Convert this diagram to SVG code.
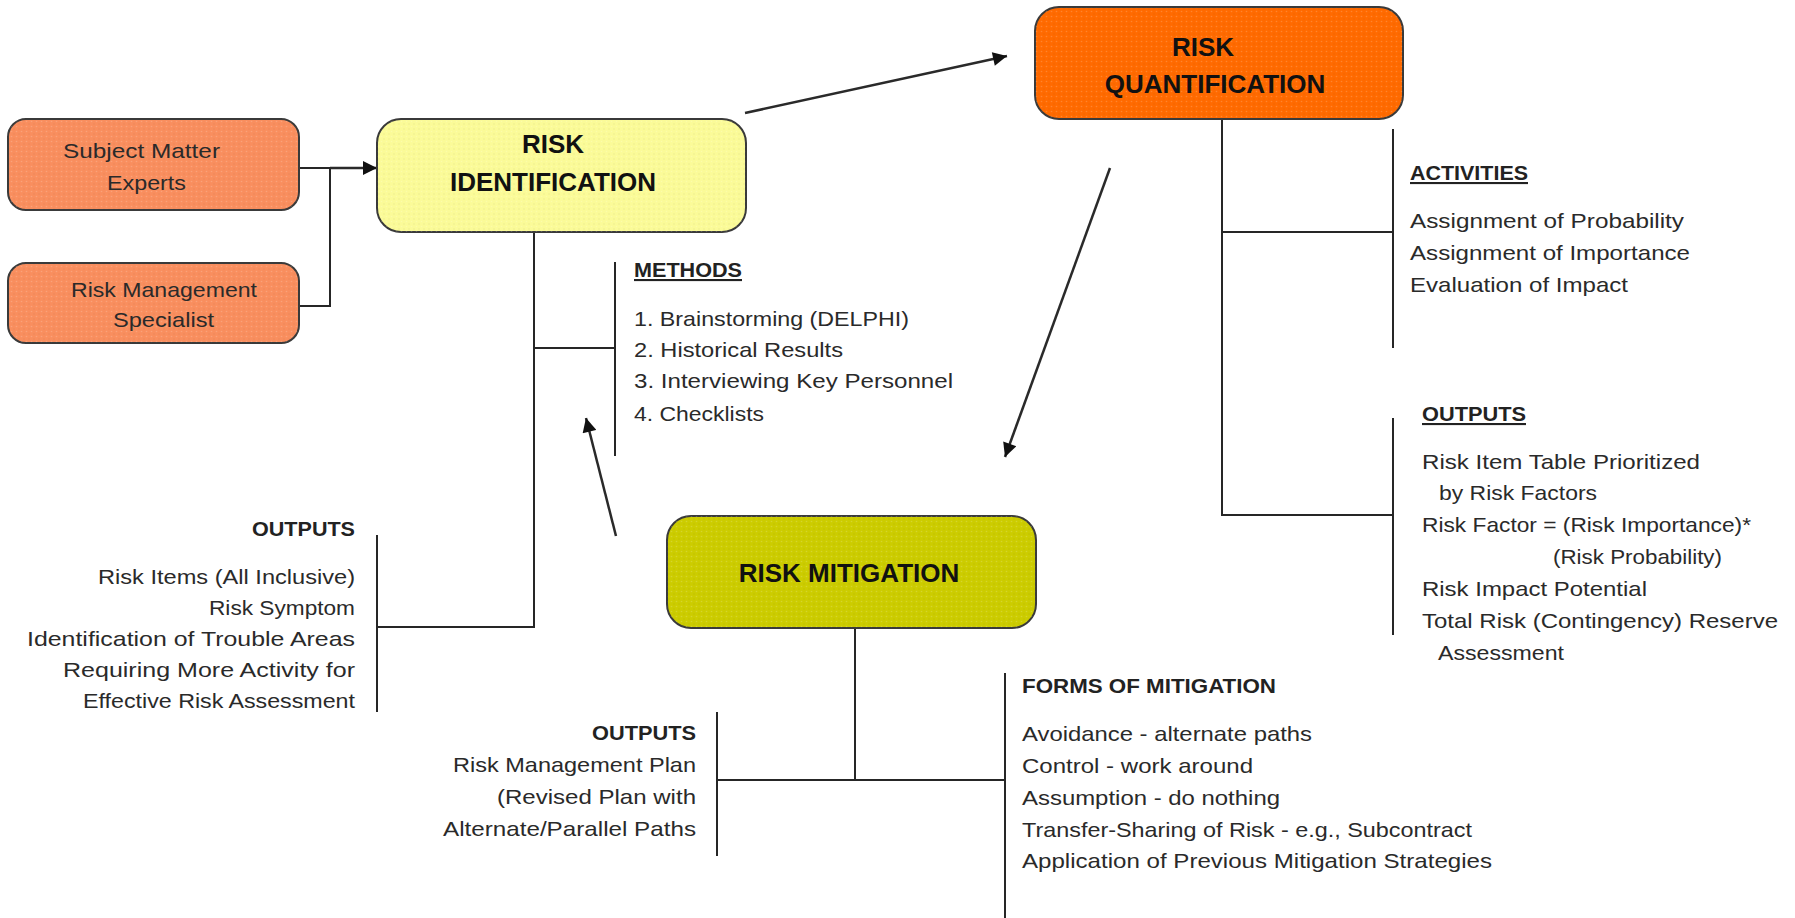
<svg xmlns="http://www.w3.org/2000/svg" width="1795" height="918" viewBox="0 0 1795 918">
  <defs>
    <style>
      .box { stroke: #3a3a3a; stroke-width: 2; }
      .sme { fill: #F98E5E; }
      .ident { fill: #FBFB98; }
      .quant { fill: #FF6A00; }
      .mitig { fill: #CCCC00; }
      .dots { fill: url(#dotTex); stroke: none; }
      .title { font-family: "Liberation Sans", Arial, sans-serif; font-weight: bold; font-size: 26px; fill: #111; text-anchor: middle; }
      .label { font-family: "Liberation Sans", Arial, sans-serif; font-size: 21px; fill: #2a2a2a; }
      .head { font-family: "Liberation Sans", Arial, sans-serif; font-size: 21px; font-weight: bold; fill: #222; }
      .txt { font-family: "Liberation Sans", Arial, sans-serif; font-size: 21px; fill: #2a2a2a; }
      .end { text-anchor: end; }
      .line { stroke: #262626; stroke-width: 2; fill: none; }
      .flow { stroke: #2a2a2a; stroke-width: 2.5; fill: none; marker-end: url(#arrow); }
    </style>
    <pattern id="dotTex" width="5" height="5" patternUnits="userSpaceOnUse">
      <circle cx="1.5" cy="1.5" r="0.8" fill="#ffffff" fill-opacity="0.18"/>
      <circle cx="4" cy="4" r="0.7" fill="#000000" fill-opacity="0.06"/>
    </pattern>
    <marker id="arrow" viewBox="0 0 10 10" refX="10" refY="5" markerWidth="16" markerHeight="14" markerUnits="userSpaceOnUse" orient="auto">
      <path d="M0,0 L10,5 L0,10 Z" fill="#111"/>
    </marker>
  </defs>

  <rect width="1795" height="918" fill="#ffffff"/>

  <!-- connectors -->
  <g id="connectors">
    <!-- inputs into identification -->
    <path class="line" d="M299,168 H330 M299,306 H330 V168"/>
    <line class="flow" x1="330" y1="168" x2="377" y2="168"/>
    <!-- cycle between the three phases -->
    <line class="flow" x1="745" y1="113" x2="1007" y2="56"/>
    <line class="flow" x1="1110" y1="168" x2="1005" y2="457"/>
    <line class="flow" x1="616" y1="536" x2="586" y2="418"/>

    <!-- identification: methods and outputs -->
    <path class="line" d="M534,232 V627 H377"/>
    <path class="line" d="M534,348 H615"/>
    <line class="line" x1="615" y1="262" x2="615" y2="456"/>
    <line class="line" x1="377" y1="535" x2="377" y2="712"/>

    <!-- quantification: activities and outputs -->
    <path class="line" d="M1222,119 V515 H1393"/>
    <path class="line" d="M1222,232 H1393"/>
    <line class="line" x1="1393" y1="129" x2="1393" y2="348"/>
    <line class="line" x1="1393" y1="418" x2="1393" y2="635"/>

    <!-- mitigation: outputs and forms -->
    <path class="line" d="M855,628 V780"/>
    <path class="line" d="M717,780 H1005"/>
    <line class="line" x1="717" y1="712" x2="717" y2="856"/>
    <line class="line" x1="1005" y1="673" x2="1005" y2="918"/>
  </g>

  <!-- input nodes -->
  <g id="subject-matter-experts">
    <rect class="box sme" x="8" y="119" width="291" height="91" rx="18"/>
    <rect class="dots" x="8" y="119" width="291" height="91" rx="18"/>
    <text class="label" x="63" y="158" textLength="157" lengthAdjust="spacingAndGlyphs">Subject Matter</text>
    <text class="label" x="107" y="190" textLength="79" lengthAdjust="spacingAndGlyphs">Experts</text>
  </g>
  <g id="risk-management-specialist">
    <rect class="box sme" x="8" y="263" width="291" height="80" rx="18"/>
    <rect class="dots" x="8" y="263" width="291" height="80" rx="18"/>
    <text class="label" x="71" y="297" textLength="186" lengthAdjust="spacingAndGlyphs">Risk Management</text>
    <text class="label" x="113" y="327" textLength="101" lengthAdjust="spacingAndGlyphs">Specialist</text>
  </g>

  <!-- phase nodes -->
  <g id="risk-identification">
    <rect class="box ident" x="377" y="119" width="369" height="113" rx="24"/>
    <rect class="dots" x="377" y="119" width="369" height="113" rx="24"/>
    <text class="title" x="553" y="153">RISK</text>
    <text class="title" x="553" y="191">IDENTIFICATION</text>
  </g>
  <g id="risk-quantification">
    <rect class="box quant" x="1035" y="7" width="368" height="112" rx="24"/>
    <rect class="dots" x="1035" y="7" width="368" height="112" rx="24"/>
    <text class="title" x="1203" y="56">RISK</text>
    <text class="title" x="1215" y="93">QUANTIFICATION</text>
  </g>
  <g id="risk-mitigation">
    <rect class="box mitig" x="667" y="516" width="369" height="112" rx="24"/>
    <rect class="dots" x="667" y="516" width="369" height="112" rx="24"/>
    <text class="title" x="849" y="582">RISK MITIGATION</text>
  </g>

  <!-- identification methods -->
  <g id="methods">
    <text class="head" x="634" y="277" textLength="108" lengthAdjust="spacingAndGlyphs" text-decoration="underline">METHODS</text>
    <text class="txt" x="634" y="326" textLength="275" lengthAdjust="spacingAndGlyphs">1. Brainstorming  (DELPHI)</text>
    <text class="txt" x="634" y="357" textLength="209" lengthAdjust="spacingAndGlyphs">2. Historical Results</text>
    <text class="txt" x="634" y="388" textLength="319" lengthAdjust="spacingAndGlyphs">3. Interviewing Key Personnel</text>
    <text class="txt" x="634" y="421" textLength="130" lengthAdjust="spacingAndGlyphs">4. Checklists</text>
  </g>

  <!-- identification outputs -->
  <g id="identification-outputs">
    <text class="head end" x="355" y="536" textLength="103" lengthAdjust="spacingAndGlyphs">OUTPUTS</text>
    <text class="txt end" x="355" y="584" textLength="257" lengthAdjust="spacingAndGlyphs">Risk Items  (All Inclusive)</text>
    <text class="txt end" x="355" y="615" textLength="146" lengthAdjust="spacingAndGlyphs">Risk Symptom</text>
    <text class="txt end" x="355" y="646" textLength="328" lengthAdjust="spacingAndGlyphs">Identification  of Trouble Areas</text>
    <text class="txt end" x="355" y="677" textLength="292" lengthAdjust="spacingAndGlyphs">Requiring More Activity for</text>
    <text class="txt end" x="355" y="708" textLength="272" lengthAdjust="spacingAndGlyphs">Effective Risk Assessment</text>
  </g>

  <!-- quantification activities -->
  <g id="activities">
    <text class="head" x="1410" y="180" textLength="118" lengthAdjust="spacingAndGlyphs" text-decoration="underline">ACTIVITIES</text>
    <text class="txt" x="1410" y="228" textLength="274" lengthAdjust="spacingAndGlyphs">Assignment of Probability</text>
    <text class="txt" x="1410" y="260" textLength="280" lengthAdjust="spacingAndGlyphs">Assignment of Importance</text>
    <text class="txt" x="1410" y="292" textLength="218" lengthAdjust="spacingAndGlyphs">Evaluation  of Impact</text>
  </g>

  <!-- quantification outputs -->
  <g id="quantification-outputs">
    <text class="head" x="1422" y="421" textLength="104" lengthAdjust="spacingAndGlyphs" text-decoration="underline">OUTPUTS</text>
    <text class="txt" x="1422" y="469" textLength="278" lengthAdjust="spacingAndGlyphs">Risk Item Table  Prioritized</text>
    <text class="txt" x="1439" y="500" textLength="158" lengthAdjust="spacingAndGlyphs">by Risk Factors</text>
    <text class="txt" x="1422" y="532" textLength="329" lengthAdjust="spacingAndGlyphs">Risk Factor  = (Risk Importance)*</text>
    <text class="txt" x="1553" y="564" textLength="169" lengthAdjust="spacingAndGlyphs">(Risk Probability)</text>
    <text class="txt" x="1422" y="596" textLength="225" lengthAdjust="spacingAndGlyphs">Risk Impact  Potential</text>
    <text class="txt" x="1422" y="628" textLength="356" lengthAdjust="spacingAndGlyphs">Total  Risk (Contingency) Reserve</text>
    <text class="txt" x="1438" y="660" textLength="126" lengthAdjust="spacingAndGlyphs">Assessment</text>
  </g>

  <!-- mitigation outputs -->
  <g id="mitigation-outputs">
    <text class="head end" x="696" y="740" textLength="104" lengthAdjust="spacingAndGlyphs">OUTPUTS</text>
    <text class="txt end" x="696" y="772" textLength="243" lengthAdjust="spacingAndGlyphs">Risk Management  Plan</text>
    <text class="txt end" x="696" y="804" textLength="199" lengthAdjust="spacingAndGlyphs">(Revised Plan  with</text>
    <text class="txt end" x="696" y="836" textLength="253" lengthAdjust="spacingAndGlyphs">Alternate/Parallel Paths</text>
  </g>

  <!-- forms of mitigation -->
  <g id="forms-of-mitigation">
    <text class="head" x="1022" y="693" textLength="254" lengthAdjust="spacingAndGlyphs">FORMS OF MITIGATION</text>
    <text class="txt" x="1022" y="741" textLength="290" lengthAdjust="spacingAndGlyphs">Avoidance - alternate  paths</text>
    <text class="txt" x="1022" y="773" textLength="231" lengthAdjust="spacingAndGlyphs">Control - work around</text>
    <text class="txt" x="1022" y="805" textLength="258" lengthAdjust="spacingAndGlyphs">Assumption - do nothing</text>
    <text class="txt" x="1022" y="837" textLength="450" lengthAdjust="spacingAndGlyphs">Transfer-Sharing of Risk - e.g., Subcontract</text>
    <text class="txt" x="1022" y="868" textLength="470" lengthAdjust="spacingAndGlyphs">Application of Previous Mitigation  Strategies</text>
  </g>
</svg>
